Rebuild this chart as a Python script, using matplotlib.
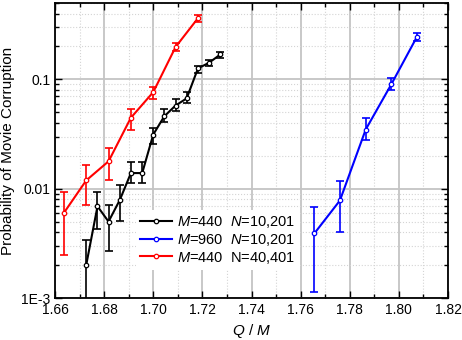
import matplotlib
matplotlib.use("Agg")
import matplotlib.pyplot as plt
import numpy as np
from matplotlib.ticker import LogLocator, FixedLocator, MultipleLocator, FixedFormatter, NullFormatter

plt.rcParams['font.family'] = ['Liberation Sans', 'DejaVu Sans']
plt.rcParams['mathtext.fontset'] = 'custom'
plt.rcParams['mathtext.rm'] = 'Liberation Sans'
plt.rcParams['mathtext.it'] = 'Liberation Sans:italic'

# Black: M=440, N=10,201
x_black = [1.6727, 1.6773, 1.6818, 1.6864, 1.6909, 1.6955, 1.7000, 1.7045, 1.7091, 1.7136, 1.7182, 1.7227, 1.7273]
y_black = [0.0020, 0.0069, 0.0050, 0.0079, 0.0139, 0.0139, 0.0313, 0.046, 0.0577, 0.067, 0.126, 0.142, 0.169]
hi_black = [0.0034, 0.0094, 0.0071, 0.0109, 0.0174, 0.0174, 0.0363, 0.0538, 0.0656, 0.0764, 0.1324, 0.149, 0.179]
lo_black = [0.0009, 0.0043, 0.0027, 0.0051, 0.0113, 0.0113, 0.0259, 0.0406, 0.0512, 0.0611, 0.115, 0.134, 0.158]

# Blue: M=960, N=10,201
x_blue = [1.7656, 1.7760, 1.7865, 1.7969, 1.8073]
y_blue = [0.0039, 0.0078, 0.0348, 0.090, 0.244]
hi_blue = [0.0068, 0.0118, 0.0446, 0.1038, 0.268]
lo_blue = [0.00114, 0.0040, 0.0277, 0.0798, 0.224]

# Red: M=440, N=40,401
x_red = [1.6636, 1.6727, 1.6818, 1.6909, 1.7000, 1.7091, 1.7182]
y_red = [0.0060, 0.0119, 0.0178, 0.0446, 0.0765, 0.198, 0.363]
hi_red = [0.0093, 0.0166, 0.0236, 0.0538, 0.0857, 0.217, 0.389]
lo_red = [0.0025, 0.0071, 0.0119, 0.0347, 0.0665, 0.180, 0.338]

labels = [r"$M$=440  $N$=10,201", r"$M$=960  $N$=10,201", r"$M$=440  N=40,401"]
xticks = [1.66, 1.68, 1.70, 1.72, 1.74, 1.76, 1.78, 1.80, 1.82]
xticklabels = ["1.66", "1.68", "1.70", "1.72", "1.74", "1.76", "1.78", "1.80", "1.82"]
yticks = [1e-3, 1e-2, 1e-1]
yticklabels = ["1E-3", "0.01", "0.1"]

fig = plt.figure(figsize=(4.62, 3.40), dpi=100)
ax = fig.add_axes([55/462, 42/340, 393/462, 295/340])

series = [
    (x_black, y_black, hi_black, lo_black, 'black', labels[0]),
    (x_blue, y_blue, hi_blue, lo_blue, '#0000ff', labels[1]),
    (x_red, y_red, hi_red, lo_red, '#ff0000', labels[2]),
]
handles = []
for xs, ys, hi, lo, c, lab in series:
    ys = np.array(ys); hi = np.array(hi); lo = np.array(lo)
    err = [ys - lo, hi - ys]
    ax.errorbar(xs, ys, yerr=err, fmt='none', ecolor=c, elinewidth=1.2, capsize=3, capthick=1.2, zorder=3)
    h, = ax.plot(xs, ys, color=c, lw=1.5, marker='o', ms=3.2, mfc='white', mec=c, mew=0.9, zorder=4, label=lab)
    handles.append(h)

ax.set_yscale('log')
ax.set_xlim(1.66, 1.82)
ax.set_ylim(1e-3, 0.5)

ax.xaxis.set_major_locator(FixedLocator(xticks))
ax.xaxis.set_major_formatter(FixedFormatter(xticklabels))
ax.xaxis.set_minor_locator(MultipleLocator(0.01))
ax.yaxis.set_major_locator(FixedLocator(yticks))
ax.yaxis.set_major_formatter(FixedFormatter(yticklabels))
ax.yaxis.set_minor_locator(LogLocator(base=10, subs=np.arange(2, 10)))
ax.yaxis.set_minor_formatter(NullFormatter())

ax.grid(which='major', color='#c4c4c4', lw=1.3, ls='-', zorder=0)
ax.grid(which='minor', color='#d4d4d4', lw=0.8, ls=':', zorder=0)
ax.set_axisbelow(True)

ax.tick_params(which='both', direction='in', top=True, right=True, labelsize=10, colors='black')
ax.tick_params(which='major', length=5, width=1)
ax.tick_params(which='minor', length=3, width=1)
for s in ax.spines.values():
    s.set_linewidth(1.3)

ax.set_ylabel("Probability of Movie Corruption", fontsize=11, labelpad=4)
ax.set_xlabel(r"$Q$ / $M$", fontsize=11, labelpad=4)

leg = ax.legend(handles=handles, loc='lower left', bbox_to_anchor=(0.205, 0.095), frameon=True,
                fontsize=10.5, handlelength=2.2, handletextpad=0.35, labelspacing=0.12, borderpad=0.3,
                borderaxespad=0)
leg.get_frame().set_edgecolor('none')
leg.get_frame().set_facecolor('white')
leg.get_frame().set_alpha(1)

fig.savefig("out.png", dpi=100)
